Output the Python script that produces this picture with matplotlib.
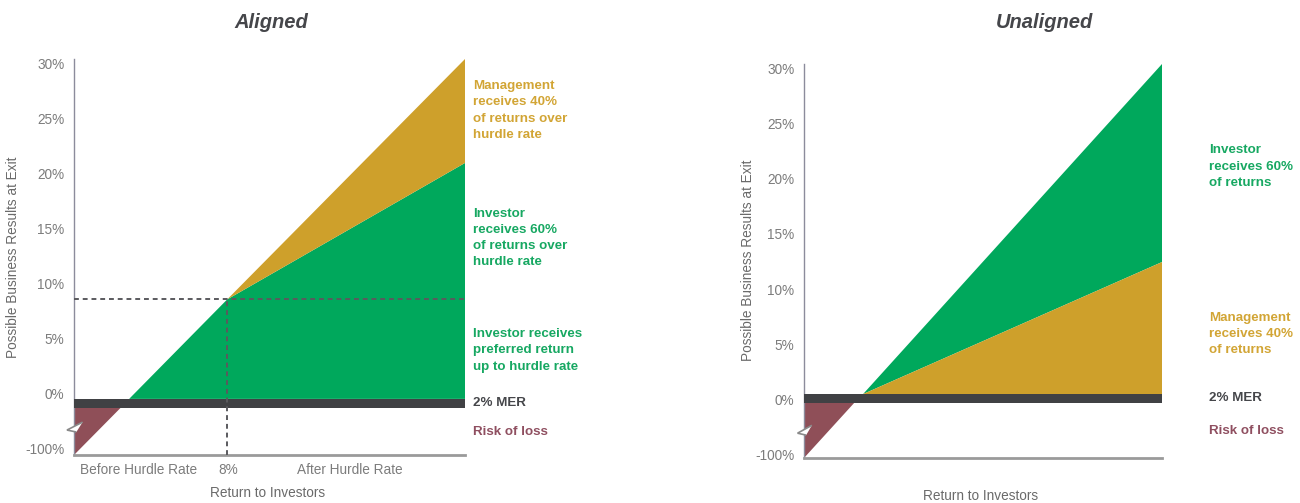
import matplotlib
matplotlib.use("Agg")
import matplotlib.pyplot as plt
from matplotlib.patches import Polygon

plt.rcParams['font.family'] = ['Liberation Sans', 'DejaVu Sans']

# ---------------- data ----------------
# y values are in "display units": 0..30 = 0%..30%, -5 = -100% (broken axis)
ytick_pos = [-5, 0, 5, 10, 15, 20, 25, 30]
ytick_labels = ['-100%', '0%', '5%', '10%', '15%', '20%', '25%', '30%']

# Aligned panel: total return line vertices (x = fraction of return axis)
al_x_bottom, al_y_bottom = 0.0, -5.55        # line start (bottom of axis)
al_x_mer_lo, al_y_mer_lo = 0.119, -1.27      # line meets bottom of MER band
al_x_mer_hi, al_y_mer_hi = 0.141, -0.45      # line meets top of MER band
al_x_hurdle, al_y_hurdle = 0.392, 8.6        # hurdle point (8%)
al_x_end, al_y_end = 1.0, 30.45              # end of total line
al_investor_end = 21.0                       # investor share at right edge
al_xticks = [0.164, 0.394, 0.706]
al_xtick_labels = ['Before Hurdle Rate', '8%', 'After Hurdle Rate']
al_ylim = (-5.55, 30.45)

# Unaligned panel
un_x_bottom, un_y_bottom = 0.0, -5.36
un_x_mer_lo, un_y_mer_lo = 0.14, -0.36
un_x_mer_hi, un_y_mer_hi = 0.165, 0.45
un_x_end, un_y_end = 1.0, 30.45
un_mgmt_end = 12.45
un_ylim = (-5.36, 30.45)

# ---------------- style ----------------
GOLD = '#CEA02B'
GREEN = '#00A85C'
RED = '#8F4F58'
BAR = '#404144'
GOLD_T = '#D2A535'
GREEN_T = '#17A862'
RED_T = '#8F4F60'
MER_T = '#45464A'
TICK_C = '#7C7C7C'
LABEL_C = '#6A6A6A'
TITLE_C = '#45464A'

W, H = 1300, 503
fig = plt.figure(figsize=(W / 100, H / 100), dpi=100)
fig.patch.set_facecolor('white')


def px_axes(x0, x1, ytop, ybot):
    return fig.add_axes([x0 / W, 1 - ybot / H, (x1 - x0) / W, (ybot - ytop) / H])


def style_axes(ax, ylim):
    ax.set_xlim(0, 1)
    ax.set_ylim(*ylim)
    for s in ['top', 'right']:
        ax.spines[s].set_visible(False)
    ax.spines['left'].set_color('#8C8C9C')
    ax.spines['left'].set_linewidth(1.0)
    ax.spines['bottom'].set_color('#9A9A9A')
    ax.spines['bottom'].set_linewidth(2.0)
    ax.set_yticks(ytick_pos)
    ax.set_yticklabels(ytick_labels)
    ax.tick_params(axis='y', length=0, pad=7, labelsize=9.8, labelcolor=TICK_C)
    ax.tick_params(axis='x', length=0, pad=6, labelsize=9.8, labelcolor=TICK_C)
    ax.set_facecolor('none')


def break_mark(ax):
    pts = [(0.022, 0.083), (-0.018, 0.063), (0.006, 0.058)]
    ax.add_patch(Polygon(pts, closed=True, facecolor='white', edgecolor='none',
                         transform=ax.transAxes, clip_on=False, zorder=5))
    ax.add_patch(Polygon(pts, closed=False, fill=False, edgecolor='#8A8A8A', lw=1.2,
                         transform=ax.transAxes, clip_on=False, zorder=6))


# ---------------- Aligned ----------------
ax1 = px_axes(74, 465, 59, 455)
style_axes(ax1, al_ylim)
ax1.add_patch(Polygon([(al_x_bottom, al_y_bottom), (al_x_mer_lo, al_y_mer_lo),
                       (al_x_bottom, al_y_mer_lo)], closed=True, facecolor=RED,
                      edgecolor='none', zorder=2))
ax1.fill_between([0, 1], al_y_mer_lo, al_y_mer_hi, color=BAR, lw=0, zorder=3)
ax1.add_patch(Polygon([(al_x_mer_hi, al_y_mer_hi), (al_x_hurdle, al_y_hurdle),
                       (al_x_end, al_investor_end), (al_x_end, al_y_mer_hi)],
                      closed=True, facecolor=GREEN, edgecolor='none', zorder=2))
ax1.add_patch(Polygon([(al_x_hurdle, al_y_hurdle), (al_x_end, al_y_end),
                       (al_x_end, al_investor_end)], closed=True,
                      facecolor=GOLD, edgecolor='none', zorder=2))
ax1.plot([0, al_x_end], [al_y_hurdle, al_y_hurdle], ls=(0, (2.5, 2)), color='#5A5A5E',
         lw=1.4, zorder=4)
ax1.plot([al_x_hurdle, al_x_hurdle], [al_ylim[0], al_y_hurdle], ls=(0, (2.5, 2)),
         color='#5A5A5E', lw=1.4, zorder=4)
ax1.set_xticks(al_xticks)
ax1.set_xticklabels(al_xtick_labels)
break_mark(ax1)

# ---------------- Unaligned ----------------
ax2 = px_axes(804, 1162, 64, 458)
style_axes(ax2, un_ylim)
ax2.set_xticks([])
ax2.add_patch(Polygon([(un_x_bottom, un_y_bottom), (un_x_mer_lo, un_y_mer_lo),
                       (un_x_bottom, un_y_mer_lo)], closed=True, facecolor=RED,
                      edgecolor='none', zorder=2))
ax2.fill_between([0, 1], un_y_mer_lo, un_y_mer_hi, color=BAR, lw=0, zorder=3)
ax2.add_patch(Polygon([(un_x_mer_hi, un_y_mer_hi), (un_x_end, un_y_end),
                       (un_x_end, un_mgmt_end)], closed=True, facecolor=GREEN,
                      edgecolor='none', zorder=2))
ax2.add_patch(Polygon([(un_x_mer_hi, un_y_mer_hi), (un_x_end, un_mgmt_end),
                       (un_x_end, un_y_mer_hi)], closed=True, facecolor=GOLD,
                      edgecolor='none', zorder=2))
break_mark(ax2)

# ---------------- texts ----------------
def ftext(x, y, s, **kw):
    fig.text(x / W, 1 - y / H, s, **kw)


ftext(271.5, 22, 'Aligned', fontsize=14.5, fontweight='bold', fontstyle='italic',
      color=TITLE_C, ha='center', va='center')
ftext(1044.5, 22, 'Unaligned', fontsize=14.5, fontweight='bold', fontstyle='italic',
      color=TITLE_C, ha='center', va='center')

ftext(268, 493, 'Return to Investors', fontsize=9.8, color=LABEL_C, ha='center', va='center')
ftext(981, 496, 'Return to Investors', fontsize=9.8, color=LABEL_C, ha='center', va='center')
ftext(13, 257, 'Possible Business Results at Exit', fontsize=9.8, color=LABEL_C,
      rotation=90, ha='center', va='center')
ftext(748, 260, 'Possible Business Results at Exit', fontsize=9.8, color=LABEL_C,
      rotation=90, ha='center', va='center')

lab = dict(fontsize=9.6, fontweight='bold', ha='left', va='center', linespacing=1.48)
ftext(473, 110.5, 'Management\nreceives 40%\nof returns over\nhurdle rate', color=GOLD_T, **lab)
ftext(473, 238, 'Investor\nreceives 60%\nof returns over\nhurdle rate', color=GREEN_T, **lab)
ftext(473, 350.5, 'Investor receives\npreferred return\nup to hurdle rate', color=GREEN_T, **lab)
ftext(473, 403, '2% MER', color=MER_T, **lab)
ftext(473, 432, 'Risk of loss', color=RED_T, **lab)

ftext(1209, 166.5, 'Investor\nreceives 60%\nof returns', color=GREEN_T, **lab)
ftext(1209, 334, 'Management\nreceives 40%\nof returns', color=GOLD_T, **lab)
ftext(1209, 398, '2% MER', color=MER_T, **lab)
ftext(1209, 431, 'Risk of loss', color=RED_T, **lab)

fig.savefig('out.png', dpi=100, facecolor='white')
